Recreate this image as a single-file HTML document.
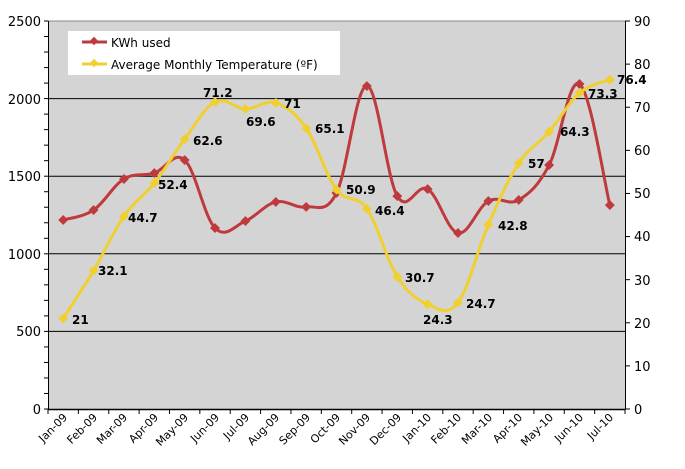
<!DOCTYPE html>
<html><head><meta charset="utf-8"><style>
body{margin:0;background:#fff}
svg{display:block;font-family:"DejaVu Sans","Liberation Sans",sans-serif}
.t{font-size:13px;fill:#000}
.x{font-size:11px;fill:#000}
.l{font-size:12px;font-weight:bold;fill:#000}
</style></head><body>
<svg id="s" width="685" height="469" viewBox="0 0 685 469">
<rect x="48" y="21" width="577" height="388" fill="#d4d4d4"/>
<g stroke="#000" stroke-width="1">
<line x1="48" y1="331.4" x2="625" y2="331.4"/>
<line x1="48" y1="253.8" x2="625" y2="253.8"/>
<line x1="48" y1="176.2" x2="625" y2="176.2"/>
<line x1="48" y1="98.6" x2="625" y2="98.6"/>
<line x1="48" y1="21" x2="625" y2="21" stroke="#888"/>
</g>
<g id="ticks" stroke="#000"></g>
<line x1="48.5" y1="21" x2="48.5" y2="409" stroke="#000"/>
<line x1="625.5" y1="21" x2="625.5" y2="409" stroke="#000"/>
<line x1="48" y1="409.5" x2="625" y2="409.5" stroke="#000" stroke-width="1.5"/>
<g class="t" text-anchor="end">
<text x="41" y="26">2500</text><text x="41" y="104">2000</text><text x="41" y="181">1500</text><text x="41" y="259">1000</text><text x="41" y="336">500</text><text x="41" y="414">0</text>
</g>
<g class="t">
<text x="634" y="26">90</text><text x="634" y="69">80</text><text x="634" y="112">70</text><text x="634" y="155">60</text><text x="634" y="198">50</text><text x="634" y="241">40</text><text x="634" y="285">30</text><text x="634" y="328">20</text><text x="634" y="371">10</text><text x="634" y="414">0</text>
</g>
<g class="x" text-anchor="end">
<text transform="translate(68,418) rotate(-45)">Jan-09</text>
<text transform="translate(98,418) rotate(-45)">Feb-09</text>
<text transform="translate(128,418) rotate(-45)">Mar-09</text>
<text transform="translate(159,418) rotate(-45)">Apr-09</text>
<text transform="translate(189,418) rotate(-45)">May-09</text>
<text transform="translate(220,418) rotate(-45)">Jun-09</text>
<text transform="translate(250,418) rotate(-45)">Jul-09</text>
<text transform="translate(280,418) rotate(-45)">Aug-09</text>
<text transform="translate(311,418) rotate(-45)">Sep-09</text>
<text transform="translate(341,418) rotate(-45)">Oct-09</text>
<text transform="translate(371,418) rotate(-45)">Nov-09</text>
<text transform="translate(402,418) rotate(-45)">Dec-09</text>
<text transform="translate(432,418) rotate(-45)">Jan-10</text>
<text transform="translate(462,418) rotate(-45)">Feb-10</text>
<text transform="translate(493,418) rotate(-45)">Mar-10</text>
<text transform="translate(523,418) rotate(-45)">Apr-10</text>
<text transform="translate(554,418) rotate(-45)">May-10</text>
<text transform="translate(584,418) rotate(-45)">Jun-10</text>
<text transform="translate(614,418) rotate(-45)">Jul-10</text>
</g>
<g id="series"></g>
<g class="l">
<text x="72" y="324">21</text><text x="98" y="275">32.1</text><text x="128" y="222">44.7</text><text x="158" y="189">52.4</text><text x="193" y="145">62.6</text>
<text x="203" y="97">71.2</text><text x="246" y="126">69.6</text><text x="284" y="108">71</text><text x="315" y="133">65.1</text><text x="346" y="194">50.9</text>
<text x="375" y="215">46.4</text><text x="405" y="282">30.7</text><text x="423" y="324">24.3</text><text x="466" y="308">24.7</text><text x="498" y="230">42.8</text>
<text x="528" y="168">57</text><text x="560" y="136">64.3</text><text x="588" y="98">73.3</text><text x="617" y="84">76.4</text>
</g>
<rect x="68" y="31" width="272" height="44" fill="#fff"/>
<line x1="82" y1="42" x2="107" y2="42" stroke="#be3a3c" stroke-width="3"/>
<rect x="91" y="38" width="6" height="6" transform="rotate(45 94 41)" fill="#be3a3c"/>
<line x1="82" y1="64" x2="107" y2="64" stroke="#f0d030" stroke-width="3"/>
<rect x="91" y="60" width="6" height="6" transform="rotate(45 94 63)" fill="#f0d030"/>
<text x="111" y="47" style="font-size:12px">KWh used</text>
<text x="111" y="69" style="font-size:12px">Average Monthly Temperature (ºF)</text>
</svg>
<script>
var NS="http://www.w3.org/2000/svg";
function el(n,a,p){var e=document.createElementNS(NS,n);for(var k in a)e.setAttribute(k,a[k]);p.appendChild(e);return e;}
var tk=document.getElementById('ticks');
for(var v=0;v<=2500;v+=100){var y=409-v*0.1552;el('line',{x1:44,x2:48,y1:y,y2:y},tk);}
for(var v=0;v<=90;v+=10){var y=409-v*4.311;el('line',{x1:625,x2:630,y1:y,y2:y},tk);}
for(var i=0;i<=19;i++){var x=48+30.37*i;el('line',{x1:x,x2:x,y1:409,y2:414},tk);}
var kwh=[1218,1282,1482,1520,1604,1166,1211,1334,1302,1392,2081,1372,1417,1134,1340,1347,1572,2094,1314];
var tmp=[21,32.1,44.7,52.4,62.6,71.2,69.6,71,65.1,50.9,46.4,30.7,24.3,24.7,42.8,57,64.3,73.3,76.4];
function pts(a,f){return a.map(function(v,i){return [63.2+30.37*i,f(v)];});}
function path(p){var d='M'+p[0][0]+','+p[0][1];var t=0.18;
for(var i=0;i<p.length-1;i++){var p0=p[i-1]||p[i],p1=p[i],p2=p[i+1],p3=p[i+2]||p2;
d+=' C'+(p1[0]+(p2[0]-p0[0])*t)+','+(p1[1]+(p2[1]-p0[1])*t)+' '+(p2[0]-(p3[0]-p1[0])*t)+','+(p2[1]-(p3[1]-p1[1])*t)+' '+p2[0]+','+p2[1];}return d;}
var g=document.getElementById('series');
function draw(p,c){el('path',{d:path(p),fill:'none',stroke:c,'stroke-width':3},g);
p.forEach(function(q){el('rect',{x:q[0]-3.5,y:q[1]-3.5,width:7,height:7,fill:c,transform:'rotate(45 '+q[0]+' '+q[1]+')'},g);});}
draw(pts(kwh,function(v){return 409-v*0.1552;}),'#be3a3c');
draw(pts(tmp,function(v){return 409-v*4.311;}),'#f0d030');
</script>
</body></html>
